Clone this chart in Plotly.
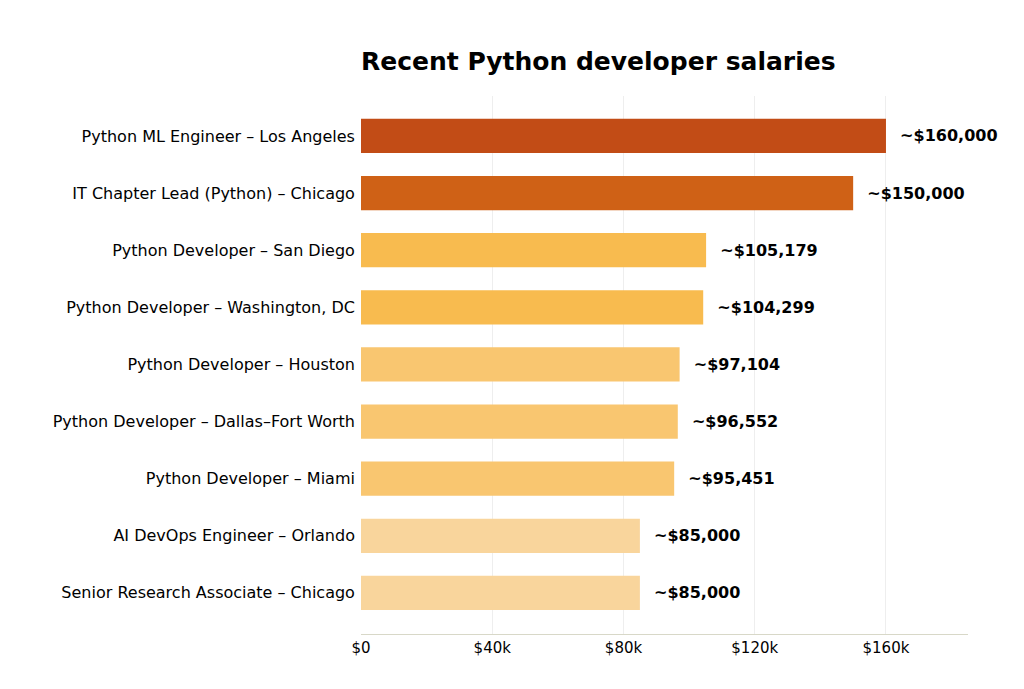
import plotly.graph_objects as go

roles = [
    "Python ML Engineer – Los Angeles",
    "IT Chapter Lead (Python) – Chicago",
    "Python Developer – San Diego",
    "Python Developer – Washington, DC",
    "Python Developer – Houston",
    "Python Developer – Dallas–Fort Worth",
    "Python Developer – Miami",
    "AI DevOps Engineer – Orlando",
    "Senior Research Associate – Chicago",
]
salaries = [160000, 150000, 105179, 104299, 97104, 96552, 95451, 85000, 85000]
colors = ["#C24C16", "#CF6116", "#F8BB4F", "#F8BB4F", "#F9C670", "#F9C670",
          "#F9C670", "#F9D59C", "#F9D59C"]

labels = ["  ~$" + format(v, ",") for v in salaries]

fig = go.Figure(go.Bar(
    x=salaries, y=roles, orientation="h",
    marker=dict(color=colors, line=dict(width=0)),
    text=labels, textposition="outside", cliponaxis=False,
    textfont=dict(family="DejaVu Sans", size=16, color="black", weight="bold"),
    width=0.6,
))

fig.update_layout(
    width=1024, height=689,
    margin=dict(l=353, r=64, t=88, b=63),
    plot_bgcolor="white", paper_bgcolor="white",
    font=dict(family="DejaVu Sans", size=16, color="black"),
    title=dict(text="<b>Recent Python developer salaries</b>", x=0, xref="paper",
               xanchor="left", y=0.923, yanchor="middle", font=dict(size=25)),
    showlegend=False,
)
fig.update_xaxes(range=[0, 185000], tickvals=[0, 40000, 80000, 120000, 160000],
                 ticktext=["$0", "$40k", "$80k", "$120k", "$160k"],
                 showgrid=True, gridcolor="#EEEEEE", zeroline=False, automargin=False,
                 showline=True, linecolor="#D8D8C8", ticks="", tickfont=dict(size=15))
fig.update_yaxes(range=[8.72, -0.7], ticks="", showline=False, tickfont=dict(size=16),
                 ticksuffix=" ", automargin=False)

fig.write_html("out.html")
